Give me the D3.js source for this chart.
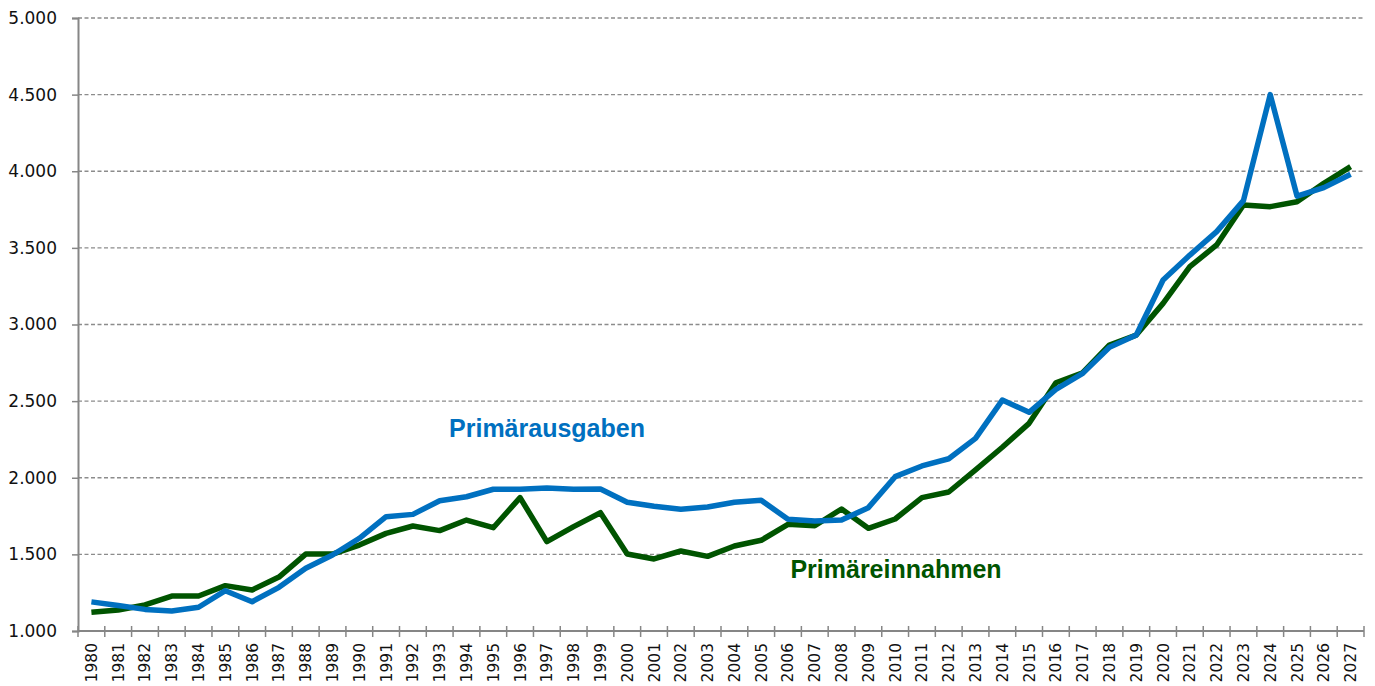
<!DOCTYPE html>
<html>
<head>
<meta charset="utf-8">
<script src="https://cdn.jsdelivr.net/npm/d3@7"></script>
<style>
  html, body { margin: 0; padding: 0; background: #fff; }
  svg { display: block; }
</style>
</head>
<body>
<svg id="chart" width="1375" height="686"></svg>
<script>
// Years on the category axis
const years = d3.range(1980, 2028).map(String);

// Primary expenditure
const primaerausgaben = [
  1190, 1167, 1141, 1130, 1155, 1263, 1191, 1285, 1409, 1496,
  1605, 1746, 1761, 1850, 1876, 1925, 1925, 1933, 1925, 1927,
  1840, 1814, 1794, 1809, 1840, 1853, 1729, 1718, 1724, 1805,
  2007, 2077, 2124, 2257, 2507, 2427, 2577, 2681, 2851, 2931,
  3290, 3453, 3606, 3808, 4500, 3838, 3893, 3980
];

// Primary revenue
const primaereinnahmen = [
  1122, 1137, 1170, 1228, 1228, 1296, 1268, 1352, 1502, 1502,
  1561, 1637, 1685, 1655, 1724, 1674, 1870, 1583, 1681, 1772,
  1502, 1470, 1522, 1487, 1555, 1592, 1696, 1687, 1796, 1670,
  1731, 1870, 1907, 2051, 2199, 2355, 2620, 2685, 2866, 2931,
  3138, 3377, 3519, 3780, 3769, 3801, 3921, 4030
];

const yTicks = [1000, 1500, 2000, 2500, 3000, 3500, 4000, 4500, 5000];

const svg = d3.select("#chart");
const margin = { left: 78, right: 11, top: 18, bottom: 55 };
const W = 1375, H = 686;

const x = d3.scaleBand()
  .domain(years)
  .range([margin.left, W - margin.right])
  .paddingInner(0).paddingOuter(0);

const y = d3.scaleLinear()
  .domain([1000, 5000])
  .range([H - margin.bottom, margin.top]);

const fmt = v => d3.format(",")(v).replace(/,/g, ".");
const axisColor = "#868686";

// Horizontal dashed gridlines
svg.append("g")
  .selectAll("line")
  .data(yTicks.filter(t => t > 1000))
  .join("line")
  .attr("x1", margin.left)
  .attr("x2", W - margin.right)
  .attr("y1", d => y(d))
  .attr("y2", d => y(d))
  .attr("stroke", "#8c8c8c")
  .attr("stroke-width", 1.3)
  .attr("stroke-dasharray", "4,2.5");

// Y axis
const yAxis = svg.append("g")
  .attr("transform", `translate(${margin.left},0)`)
  .call(d3.axisLeft(y).tickValues(yTicks).tickFormat(fmt).tickSize(6).tickPadding(15));
yAxis.select(".domain").attr("stroke", axisColor).attr("stroke-width", 2);
yAxis.selectAll(".tick line").attr("stroke", axisColor).attr("stroke-width", 1.5);
yAxis.selectAll("text")
  .attr("font-family", "DejaVu Sans, sans-serif")
  .attr("font-size", 17)
  .attr("fill", "#111");

// X axis: tick marks on category boundaries, crossing the axis line
const xAxisG = svg.append("g");
xAxisG.append("line")
  .attr("x1", margin.left).attr("x2", W - margin.right)
  .attr("y1", y(1000)).attr("y2", y(1000))
  .attr("stroke", axisColor).attr("stroke-width", 2);
const boundaries = years.map(d => x(d)).concat([x(years[years.length - 1]) + x.bandwidth()]);
xAxisG.selectAll("line.tk")
  .data(boundaries)
  .join("line")
  .attr("class", "tk")
  .attr("x1", d => d).attr("x2", d => d)
  .attr("y1", y(1000) - 5).attr("y2", y(1000) + 6)
  .attr("stroke", axisColor).attr("stroke-width", 1.5);
xAxisG.selectAll("text")
  .data(years)
  .join("text")
  .attr("transform", d => `translate(${x(d) + x.bandwidth() / 2 + 5.5},${y(1000) + 12}) rotate(-90)`)
  .attr("text-anchor", "end")
  .attr("font-family", "DejaVu Sans, sans-serif")
  .attr("font-size", 15.5)
  .attr("fill", "#111")
  .text(d => d);

// Lines
const line = d3.line()
  .x((d, i) => x(years[i]) + x.bandwidth() / 2)
  .y(d => y(d));

svg.append("path")
  .datum(primaereinnahmen)
  .attr("fill", "none")
  .attr("stroke", "#005400")
  .attr("stroke-width", 5.5)
  .attr("stroke-linejoin", "round")
  .attr("d", line);

svg.append("path")
  .datum(primaerausgaben)
  .attr("fill", "none")
  .attr("stroke", "#0070C0")
  .attr("stroke-width", 5.5)
  .attr("stroke-linejoin", "round")
  .attr("d", line);

// Series labels
svg.append("text")
  .attr("x", 547).attr("y", 437)
  .attr("text-anchor", "middle")
  .attr("font-family", "Liberation Sans, Arial, sans-serif")
  .attr("font-weight", "bold")
  .attr("font-size", 25)
  .attr("fill", "#0070C0")
  .text("Primärausgaben");

svg.append("text")
  .attr("x", 896).attr("y", 578)
  .attr("text-anchor", "middle")
  .attr("font-family", "Liberation Sans, Arial, sans-serif")
  .attr("font-weight", "bold")
  .attr("font-size", 25)
  .attr("fill", "#005400")
  .text("Primäreinnahmen");
</script>
</body>
</html>
